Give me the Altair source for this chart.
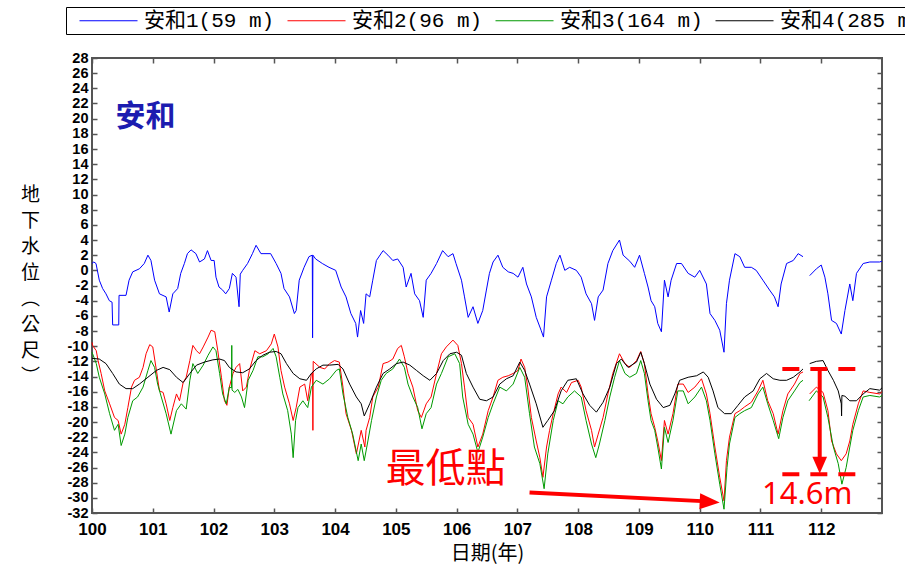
import altair as alt
import pandas as pd

SERIES = ["安和1(59 m)", "安和2(96 m)", "安和3(164 m)", "安和4(285 m)"]
COLORS = ["#0000ff", "#ff0000", "#009900", "#000000"]

# ---- 安和1 (59 m) ----
w1_year = [100.0, 100.03, 100.066, 100.12, 100.175, 100.23, 100.285, 100.33, 100.34, 100.44, 100.445, 100.56,
           100.61, 100.67, 100.78, 100.86, 100.92, 100.97, 101.03, 101.11, 101.22, 101.27, 101.33, 101.41,
           101.46, 101.52, 101.57, 101.63, 101.71, 101.77, 101.85, 101.90, 101.96, 102.01, 102.04, 102.09,
           102.15, 102.20, 102.26, 102.31, 102.37, 102.42, 102.44, 102.48, 102.56, 102.64, 102.70, 102.78,
           102.83, 102.94, 103.03, 103.11, 103.16, 103.25, 103.33, 103.36, 103.41, 103.49, 103.57, 103.625,
           103.63, 103.635, 103.68, 103.79, 103.90, 104.01, 104.10, 104.18, 104.26, 104.34, 104.37, 104.42,
           104.47, 104.51, 104.57, 104.62, 104.68, 104.79, 104.87, 104.95, 105.03, 105.12, 105.17, 105.25,
           105.31, 105.39, 105.45, 105.50, 105.58, 105.67, 105.77, 105.86, 105.94, 105.99, 106.08, 106.13,
           106.19, 106.27, 106.35, 106.43, 106.49, 106.54, 106.60, 106.68, 106.76, 106.85, 106.93, 107.01,
           107.09, 107.15, 107.23, 107.31, 107.39, 107.43, 107.48, 107.56, 107.64, 107.70, 107.78, 107.86,
           107.97, 108.05, 108.13, 108.22, 108.27, 108.33, 108.41, 108.49, 108.57, 108.68, 108.74, 108.85,
           108.93, 109.01, 109.09, 109.15, 109.20, 109.26, 109.31, 109.37, 109.42, 109.48, 109.53, 109.62,
           109.70, 109.81, 109.92, 110.0, 110.11, 110.17, 110.25, 110.33, 110.40, 110.44, 110.49, 110.58,
           110.66, 110.74, 110.85, 110.93, 111.04, 111.15, 111.23, 111.29, 111.34, 111.43, 111.54, 111.62,
           111.70, 111.75, 111.81, 111.92, 112.00, 112.06, 112.11, 112.17, 112.25, 112.33, 112.39, 112.47,
           112.52, 112.58, 112.69, 112.80, 112.96, 113.0]
w1_level = [0.9, 1.1, 0.9, -1.3, -2.4, -3.1, -4.0, -4.2, -7.2, -7.2, -3.3, -3.3,
            -1.3, -0.2, 0.2, 0.9, 2.0, 1.3, -1.3, -3.1, -3.5, -5.5, -3.1, -2.4,
            -0.4, 0.9, 2.2, 2.7, 2.2, 1.1, 1.5, 2.6, 1.3, 1.3, -0.9, -2.2,
            -2.6, -3.1, -2.4, -0.4, -0.9, -4.8, -0.5, 0.0, 0.9, 2.2, 3.3, 2.2,
            2.2, 2.2, 0.9, -0.4, -2.4, -3.5, -5.7, -5.3, -1.3, 0.4, 1.8, 2.0,
            -8.9, 2.0, 1.5, 0.9, 0.4, 0.0, -2.2, -3.5, -5.7, -7.0, -8.8, -5.3,
            -7.0, -3.1, -3.5, -1.3, 1.3, 2.6, 2.0, 1.3, 1.5, 0.4, -2.2, -0.4,
            -3.1, -4.0, -6.2, -1.3, -0.4, 0.9, 2.6, 1.8, 2.2, 0.9, -1.3, -3.5,
            -6.2, -4.8, -7.0, -5.3, -2.6, -0.4, 1.1, 2.0, 0.4, -0.2, -0.4, -0.9,
            0.4, -1.8, -3.5, -6.2, -7.9, -8.8, -3.5, -1.3, 0.9, 2.0, 0.0, 0.4,
            0.0, -0.9, -3.1, -4.4, -6.6, -3.5, -2.6, 0.9, 2.6, 4.0, 2.0, 1.2,
            0.4, 2.0, -0.4, -2.2, -4.0, -4.8, -7.0, -8.1, -1.3, -3.5, -1.3, 0.9,
            0.9, -0.4, -0.9, 0.0, -1.8, -5.7, -6.6, -7.9, -10.8, -4.4, -1.3, 2.2,
            1.8, 0.4, 0.4, 0.0, -1.3, -2.6, -3.5, -4.8, -1.8, 0.9, 1.3, 2.2,
            1.8, None, -0.7, 0.2, 0.7, -0.9, -3.1, -6.6, -7.0, -8.4, -5.3, -1.8,
            -4.0, -0.4, 0.9, 1.1, 1.1, 1.2]

# ---- 安和2 (96 m) ----
w2_year = [100.0, 100.01, 100.07, 100.10, 100.15, 100.21, 100.29, 100.37, 100.43, 100.48, 100.54, 100.59,
           100.65, 100.70, 100.78, 100.84, 100.89, 100.95, 101.00, 101.06, 101.11, 101.17, 101.22, 101.28,
           101.33, 101.39, 101.44, 101.50, 101.55, 101.61, 101.66, 101.72, 101.77, 101.83, 101.91, 101.96,
           102.02, 102.07, 102.13, 102.18, 102.22, 102.26, 102.32, 102.37, 102.43, 102.48, 102.54, 102.59,
           102.68, 102.76, 102.87, 102.95, 103.00, 103.06, 103.11, 103.17, 103.25, 103.31, 103.36, 103.42,
           103.50, 103.55, 103.61, 103.63, 103.635, 103.64, 103.75, 103.83, 103.91, 103.99, 104.07, 104.13,
           104.18, 104.27, 104.35, 104.43, 104.49, 104.51, 104.57, 104.62, 104.71, 104.79, 104.87, 104.95,
           105.03, 105.09, 105.14, 105.20, 105.28, 105.36, 105.42, 105.50, 105.58, 105.67, 105.75, 105.83,
           105.94, 106.02, 106.08, 106.13, 106.19, 106.27, 106.35, 106.43, 106.52, 106.60, 106.68, 106.76,
           106.85, 106.93, 107.01, 107.06, 107.12, 107.17, 107.23, 107.31, 107.37, 107.42, 107.48, 107.53,
           107.59, 107.67, 107.72, 107.81, 107.89, 108.00, 108.05, 108.13, 108.22, 108.27, 108.33, 108.41,
           108.49, 108.57, 108.68, 108.77, 108.85, 108.96, 109.03, 109.09, 109.15, 109.20, 109.26, 109.31,
           109.37, 109.42, 109.48, 109.56, 109.64, 109.73, 109.81, 109.92, 110.03, 110.11, 110.17, 110.25,
           110.33, 110.40, 110.44, 110.49, 110.58, 110.66, 110.74, 110.85, 110.96, 111.04, 111.12, 111.21,
           111.29, 111.37, 111.45, 111.56, 111.65, 111.70, 111.75, 111.81, 111.92, 112.03, 112.11, 112.17,
           112.25, 112.33, 112.41, 112.47, 112.52, 112.61, 112.69, 112.80, 112.96, 113.0]
w2_level = [-9.5, -9.9, -10.6, -11.9, -13.6, -15.9, -17.6, -19.4, -19.8, -21.6, -20.3, -18.1,
            -15.4, -14.5, -14.1, -12.8, -11.0, -9.8, -10.1, -13.2, -15.9, -16.1, -17.6, -19.8,
            -18.1, -16.3, -17.2, -14.8, -14.1, -11.9, -9.9, -10.6, -11.0, -10.1, -8.8, -7.9,
            -8.1, -10.6, -14.1, -17.2, -17.8, -15.4, -13.6, -12.8, -12.3, -15.9, -15.4, -13.2,
            -10.6, -11.0, -10.6, -9.7, -8.4, -10.1, -13.2, -15.4, -17.6, -19.8, -18.1, -15.4,
            -15.0, -17.2, -13.6, -13.5, -21.1, -12.0, -12.8, -13.0, -12.3, -11.9, -12.1, -15.4,
            -18.9, -21.1, -24.2, -21.1, -23.3, -21.1, -19.4, -16.7, -15.4, -12.3, -12.1, -11.7,
            -10.3, -9.9, -11.4, -13.6, -15.4, -18.5, -19.4, -17.6, -16.7, -13.6, -11.0, -10.1,
            -9.2, -9.9, -12.3, -15.4, -19.4, -20.3, -23.3, -21.6, -18.5, -16.7, -14.5, -14.1,
            -13.9, -13.6, -13.2, -11.7, -12.8, -15.4, -19.4, -22.5, -24.7, -27.3, -23.3, -21.1,
            -18.9, -16.3, -15.4, -16.1, -14.8, -14.5, -15.4, -18.5, -21.1, -23.3, -21.6, -19.4,
            -16.3, -13.6, -11.0, -12.3, -12.8, -11.9, -10.7, -12.3, -16.3, -18.9, -20.7, -22.5,
            -25.1, -19.8, -21.6, -18.9, -15.0, -15.0, -16.1, -15.4, -14.3, -16.3, -18.9, -23.3,
            -27.3, -30.4, -25.1, -22.0, -18.9, -18.5, -18.0, -17.4, -15.9, -14.5, -17.2, -18.9,
            -21.6, -18.5, -16.3, -15.0, -13.6, -13.4, None, -16.3, -15.4, -16.1, -18.5, -22.5,
            -24.2, -25.1, -24.2, -22.5, -20.3, -17.6, -15.9, -16.1, -16.3, -16.0]

# ---- 安和3 (164 m) ----
w3_year = [100.0, 100.01, 100.07, 100.12, 100.21, 100.29, 100.37, 100.43, 100.48, 100.54, 100.59, 100.67,
           100.75, 100.84, 100.92, 100.97, 101.03, 101.08, 101.14, 101.22, 101.30, 101.39, 101.47, 101.55,
           101.61, 101.66, 101.74, 101.83, 101.91, 101.99, 102.04, 102.10, 102.15, 102.21, 102.26, 102.295,
           102.30, 102.305, 102.35, 102.40, 102.46, 102.51, 102.57, 102.65, 102.73, 102.81, 102.90, 102.98,
           103.03, 103.09, 103.14, 103.22, 103.28, 103.31, 103.35, 103.39, 103.47, 103.55, 103.61, 103.69,
           103.80, 103.91, 104.02, 104.07, 104.13, 104.21, 104.29, 104.38, 104.43, 104.48, 104.54, 104.60,
           104.68, 104.76, 104.84, 104.95, 105.06, 105.14, 105.20, 105.28, 105.36, 105.43, 105.50, 105.58,
           105.67, 105.75, 105.86, 105.97, 106.05, 106.10, 106.19, 106.27, 106.35, 106.43, 106.52, 106.60,
           106.71, 106.82, 106.93, 107.04, 107.12, 107.20, 107.28, 107.37, 107.44, 107.50, 107.59, 107.67,
           107.75, 107.83, 107.94, 108.05, 108.13, 108.22, 108.29, 108.35, 108.44, 108.52, 108.60, 108.68,
           108.77, 108.85, 108.96, 109.03, 109.09, 109.15, 109.20, 109.26, 109.31, 109.37, 109.42, 109.48,
           109.56, 109.64, 109.73, 109.81, 109.92, 110.03, 110.11, 110.17, 110.25, 110.33, 110.40, 110.45,
           110.49, 110.58, 110.66, 110.74, 110.85, 110.96, 111.04, 111.12, 111.21, 111.30, 111.37, 111.45,
           111.56, 111.65, 111.70, 111.75, 111.80, 111.92, 112.03, 112.11, 112.20, 112.28, 112.34, 112.41,
           112.47, 112.52, 112.61, 112.69, 112.80, 112.96, 113.0]
w3_level = [-10.8, -11.0, -12.3, -14.1, -16.3, -18.9, -21.1, -20.3, -23.1, -21.6, -19.4, -17.2,
            -16.7, -15.4, -13.2, -11.9, -12.8, -15.0, -16.7, -18.9, -21.6, -18.5, -17.6, -18.3,
            -14.5, -12.3, -13.6, -12.5, -11.2, -10.1, -10.6, -13.6, -16.3, -17.6, -15.4, -15.5,
            -9.9, -15.8, -16.1, -15.7, -16.7, -18.1, -14.5, -13.2, -11.4, -11.4, -11.0, -10.3,
            -11.4, -14.1, -16.3, -18.5, -21.6, -24.7, -19.8, -18.1, -17.2, -18.1, -15.4, -14.5,
            -15.0, -14.3, -13.2, -13.0, -16.3, -19.4, -21.6, -25.1, -22.9, -25.1, -22.5, -19.8,
            -16.7, -14.5, -13.6, -13.0, -11.7, -12.8, -15.0, -16.7, -18.1, -20.9, -18.9, -18.1,
            -15.0, -13.6, -11.4, -11.0, -12.3, -16.7, -20.3, -21.6, -24.0, -22.0, -19.4, -17.6,
            -15.4, -15.9, -15.0, -12.8, -14.1, -18.9, -23.3, -25.5, -28.8, -24.2, -19.8, -17.2,
            -17.6, -16.7, -15.9, -16.7, -19.8, -22.9, -24.7, -22.9, -19.8, -16.7, -14.1, -11.9,
            -13.6, -14.1, -13.6, -11.9, -13.6, -17.2, -19.8, -21.1, -23.3, -26.2, -20.7, -22.7,
            -19.8, -15.9, -15.9, -17.6, -16.7, -15.4, -17.2, -19.8, -24.2, -28.2, -31.5, -26.0,
            -22.9, -19.4, -18.9, -18.5, -18.1, -16.3, -15.4, -17.6, -19.8, -22.2, -19.4, -17.2,
            -15.9, -14.8, -14.5, None, -17.2, -15.9, -16.7, -19.4, -23.3, -25.5, -28.2, -26.0,
            -23.3, -21.1, -18.5, -16.7, -16.5, -16.7, -16.5]

# ---- 安和4 (285 m) ----
w4_year = [100.0, 100.12, 100.23, 100.34, 100.45, 100.56, 100.67, 100.78, 100.92, 101.06, 101.17, 101.28,
           101.39, 101.50, 101.61, 101.72, 101.85, 101.99, 102.10, 102.18, 102.26, 102.37, 102.48, 102.59,
           102.70, 102.81, 102.92, 103.03, 103.11, 103.20, 103.31, 103.42, 103.53, 103.61, 103.69, 103.80,
           103.91, 104.05, 104.13, 104.24, 104.35, 104.43, 104.48, 104.57, 104.68, 104.79, 104.90, 105.01,
           105.12, 105.23, 105.34, 105.45, 105.56, 105.67, 105.78, 105.89, 106.00, 106.08, 106.16, 106.27,
           106.38, 106.49, 106.60, 106.71, 106.82, 106.93, 107.04, 107.12, 107.20, 107.31, 107.42, 107.50,
           107.61, 107.72, 107.83, 107.97, 108.08, 108.19, 108.30, 108.41, 108.52, 108.63, 108.71, 108.82,
           108.96, 109.03, 109.09, 109.18, 109.29, 109.40, 109.51, 109.59, 109.67, 109.81, 109.95, 110.06,
           110.14, 110.22, 110.30, 110.41, 110.52, 110.63, 110.74, 110.88, 110.99, 111.10, 111.21, 111.32,
           111.43, 111.54, 111.65, 111.70, 111.75, 111.81, 111.92, 112.03, 112.11, 112.20, 112.28, 112.33,
           112.335, 112.34, 112.39, 112.47, 112.58, 112.69, 112.80, 112.96, 113.0]
w4_level = [-11.6, -11.7, -12.3, -13.6, -15.0, -15.6, -15.6, -15.0, -14.1, -13.2, -12.8, -13.1,
            -14.1, -14.8, -13.6, -12.5, -12.1, -11.8, -11.7, -11.9, -12.8, -13.4, -13.5, -13.0,
            -11.9, -11.2, -10.8, -10.7, -11.0, -12.3, -13.6, -14.3, -14.5, -13.6, -13.0, -12.5,
            -12.5, -12.4, -13.0, -15.0, -16.7, -17.6, -19.2, -17.6, -15.4, -13.6, -13.0, -12.3,
            -12.1, -12.5, -13.2, -13.9, -14.5, -13.6, -11.9, -11.0, -10.8, -11.2, -13.6, -15.4,
            -17.0, -17.2, -16.7, -15.0, -14.3, -13.9, -12.1, -13.2, -15.0, -17.6, -20.7, -19.8,
            -18.5, -15.9, -14.5, -14.3, -16.3, -17.8, -18.7, -17.4, -15.4, -12.3, -11.7, -12.8,
            -12.1, -10.8, -12.3, -15.0, -17.0, -18.1, -17.8, -16.3, -14.5, -14.1, -13.9, -13.4,
            -14.1, -15.9, -18.1, -18.9, -18.9, -17.8, -16.7, -15.9, -14.3, -13.6, -14.3, -14.5,
            -14.5, -14.1, -13.4, -13.0, None, -12.3, -12.0, -11.9, -13.2, -14.5, -15.9, -17.6,
            -19.2, -16.5, -16.6, -17.2, -17.2, -16.3, -15.6, -15.8, -15.5]

# ---- annotations ----
label_site = ["安和"]
label_site_year = [100.88]
label_site_level = [20.2]

label_low = ["最低點"]
label_low_year = [105.82]
label_low_level = [-26.3]

label_diff = ["14.6m"]
label_diff_year = [111.77]
label_diff_level = [-29.6]

arrow_low_year = [107.2, 110.2]
arrow_low_level = [-29.3, -30.5]
arrow_low_head_year = [110.165]
arrow_low_head_level = [-30.53]

diff_line_level = [-13.0, -26.9]
diff_line_start = [111.36, 111.36]
diff_line_end = [112.585, 112.585]
diff_arrow_year = [111.975]
diff_arrow_top = [-13.0]
diff_arrow_bottom = [-25.4]
diff_head_level = [-25.7]

YEARS = list(range(100, 113))
LEVELS = list(range(-32, 29, 2))


def series_rows(name, years, levels):
    rows, seg = [], 0
    for t, v in zip(years, levels):
        if v is None:
            seg += 1
            continue
        rows.append({"series": name, "year": t, "level": v, "seg": f"{name}-{seg}"})
    return rows


rows = []
for name, ys, vs in zip(SERIES, [w1_year, w2_year, w3_year, w4_year], [w1_level, w2_level, w3_level, w4_level]):
    rows += series_rows(name, ys, vs)
df = pd.DataFrame(rows)

XS = alt.Scale(domain=[100, 113], nice=False, zero=False)
YS = alt.Scale(domain=[-32, 28], nice=False, zero=False)
TICK = "#555555"
LAB_FONT = "Liberation Sans"
CJK = "Noto Sans CJK TC"

y_title = ["地", "下", "水", "位", "︵", "公", "尺", "︶"]

lines = alt.Chart(df).mark_line(strokeWidth=1).encode(
    x=alt.X("year:Q", scale=XS, axis=alt.Axis(
        orient="bottom", values=YEARS, ticks=False, tickSize=0, domain=False, grid=False,
        labelFont=LAB_FONT, labelFontWeight="bold", labelFontSize=17, labelColor="black",
        labelPadding=8, labelFlush=False, labelOverlap=False, format="d",
        title="日期(年)", titleFont=CJK, titleFontSize=20, titleFontWeight="normal",
        titleColor="black", titleY=40, titleBaseline="middle")),
    y=alt.Y("level:Q", scale=YS, axis=alt.Axis(
        orient="left", values=LEVELS, ticks=False, tickSize=0, domain=False, grid=False,
        labelFont=LAB_FONT, labelFontWeight="bold", labelFontSize=14.5, labelColor="black",
        labelPadding=4, labelOverlap=False, labelFlush=False,
        labelExpr="datum.value < 0 ? '-' + abs(datum.value) : '' + datum.value",
        title=y_title, titleAngle=0, titleX=-62, titleY=127, titleBaseline="top",
        titleAlign="center", titleFont=CJK, titleFontSize=19, titleFontWeight="normal",
        titleLineHeight=26, titleColor="black")),
    color=alt.Color("series:N", scale=alt.Scale(domain=SERIES, range=COLORS), legend=alt.Legend(
        title=None, orient="none", legendX=-26, legendY=-51, direction="horizontal",
        symbolType="M0,0H6", symbolSize=374, symbolStrokeWidth=1.2,
        labelFont="Liberation Mono, Noto Sans CJK TC", labelFontSize=21, labelColor="black",
        labelOffset=54, labelLimit=0, columnPadding=2, padding=3,
        strokeColor="black", fillColor="white")),
    detail="seg:N",
)

RED = "#ff0000"

dash_df = pd.DataFrame({"level": diff_line_level, "x1": diff_line_start, "x2": diff_line_end})
dashes = alt.Chart(dash_df).mark_rule(color=RED, strokeWidth=4, strokeDash=[17, 11]).encode(
    x=alt.X("x1:Q", scale=XS, axis=alt.Axis(
        orient="top", offset=-455, values=YEARS, labels=False, domain=False, grid=False,
        ticks=True, tickSize=5, tickWidth=1.5, tickColor=TICK, title=None)),
    x2="x2:Q",
    y=alt.Y("level:Q", scale=YS, axis=alt.Axis(
        orient="right", offset=-790, values=LEVELS, labels=False, domain=False, grid=False,
        ticks=True, tickSize=5, tickWidth=1.5, tickColor=TICK, title=None)),
)

shaft_df = pd.DataFrame({"year": diff_arrow_year, "top": diff_arrow_top, "bottom": diff_arrow_bottom})
shaft = alt.Chart(shaft_df).mark_rule(color=RED, strokeWidth=4).encode(
    x=alt.X("year:Q", scale=XS, axis=alt.Axis(
        orient="bottom", offset=-455, values=YEARS, labels=False, domain=False, grid=False,
        ticks=True, tickSize=5, tickWidth=1.5, tickColor=TICK, title=None)),
    y=alt.Y("top:Q", scale=YS, axis=alt.Axis(
        orient="left", offset=-790, values=LEVELS, labels=False, domain=False, grid=False,
        ticks=True, tickSize=5, tickWidth=1.5, tickColor=TICK, title=None)),
    y2="bottom:Q",
)

head_down = alt.Chart(pd.DataFrame({"year": diff_arrow_year, "level": diff_head_level})).mark_point(
    shape="M-0.875,-1L0.875,-1L0,1Z", filled=True, size=282, color=RED, opacity=1, strokeWidth=0
).encode(x=alt.X("year:Q", scale=XS, axis=None), y=alt.Y("level:Q", scale=YS, axis=None))

arrow_line = alt.Chart(pd.DataFrame({"year": arrow_low_year, "level": arrow_low_level})).mark_line(
    color=RED, strokeWidth=4
).encode(x=alt.X("year:Q", scale=XS, axis=None), y=alt.Y("level:Q", scale=YS, axis=None))

arrow_head = alt.Chart(pd.DataFrame({"year": arrow_low_head_year, "level": arrow_low_head_level})).mark_point(
    shape="M-1,-0.8L1,0L-1,0.8Z", filled=True, size=400, angle=3, color=RED, opacity=1, strokeWidth=0
).encode(x=alt.X("year:Q", scale=XS, axis=None), y=alt.Y("level:Q", scale=YS, axis=None))


def text_layer(texts, years, levels, **kw):
    d = pd.DataFrame({"t": texts, "year": years, "level": levels})
    return alt.Chart(d).mark_text(**kw).encode(
        x=alt.X("year:Q", scale=XS, axis=None), y=alt.Y("level:Q", scale=YS, axis=None), text="t:N")


site_text = text_layer(label_site, label_site_year, label_site_level, font=CJK, fontSize=30,
                       fontWeight="bold", color="#1c1cb0", align="center", baseline="middle")
low_text = text_layer(label_low, label_low_year, label_low_level, font=CJK, fontSize=40,
                      fontWeight="normal", color=RED, align="center", baseline="middle")
diff_text = text_layer(label_diff, label_diff_year, label_diff_level, font="Noto Sans", fontSize=31,
                       fontWeight="normal", color=RED, align="center", baseline="middle")

chart = alt.layer(lines, dashes, shaft, head_down, arrow_line, arrow_head,
                  site_text, low_text, diff_text).properties(
    width=790, height=455,
    autosize=alt.AutoSizeParams(type="none"),
    padding={"left": 92, "top": 58, "right": 23, "bottom": 52},
    background="white",
).configure_view(stroke=TICK, strokeWidth=2)

chart.save("out.html", embed_options={"renderer": "svg", "actions": False})
